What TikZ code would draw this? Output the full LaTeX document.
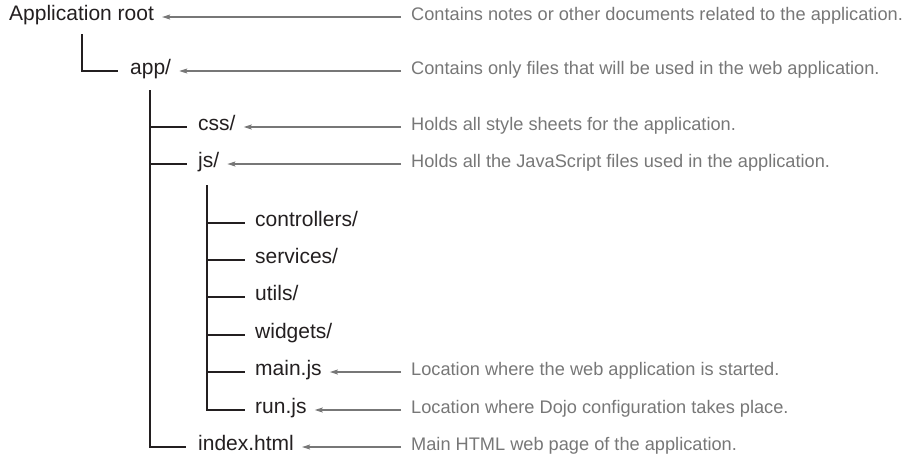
\documentclass[tikz,border=0pt]{standalone}
\usepackage{fontspec}
\setmainfont{Liberation Sans}
\usetikzlibrary{arrows.meta}
\definecolor{inkdark}{HTML}{231F20}
\definecolor{inkgrey}{HTML}{777777}
\tikzset{
  entry/.style={anchor=west, inner sep=0pt, text height=1.2ex, text depth=0pt,
    text=inkdark, font=\fontsize{21}{24}\selectfont},
  remark/.style={anchor=west, inner sep=0pt, text height=1.2ex, text depth=0pt,
    text=inkgrey, font=\fontsize{18.2}{22}\selectfont},
  branch/.style={draw=inkdark, line width=1.2pt},
  pointer/.style={draw=inkgrey, line width=1.1pt,
    -{Stealth[length=8pt,width=5pt,inset=1.5pt]}, shorten >=8pt, shorten <=10pt}
}

\begin{document}
\begin{tikzpicture}[x=1pt, y=-1pt]
\useasboundingbox (0,0) rectangle (916,459);

% Folders and files
\node[entry] (root) at (9,17) {Application root};
\node[entry] (app) at (130,71) {app/};
\foreach \nm/\y/\lbl in {css/127/{css/}, js/164/{js/}, index/447/{index.html}}
  \node[entry] (\nm) at (198,\y) {\lbl};
\foreach \nm/\y/\lbl in {ctrl/223/{controllers/}, svc/260/{services/},
    utils/297/{utils/}, widgets/335/{widgets/}, main/372/{main.js}, run/410/{run.js}}
  \node[entry] (\nm) at (255,\y) {\lbl};

% Tree lines
\coordinate (rootStem) at (82,34);
\coordinate (appStem) at (150,90);
\coordinate (jsStem) at (207,185);
\draw[branch] (rootStem) |- ([xshift=-12pt]app.west);
\draw[branch] (appStem) |- ([xshift=-12pt]index.west);
\foreach \nm in {css, js}
  \draw[branch] (appStem |- \nm.west) -- ([xshift=-11pt]\nm.west);
\draw[branch] (jsStem) |- ([xshift=-10pt]run.west);
\foreach \nm in {ctrl, svc, utils, widgets, main}
  \draw[branch] (jsStem |- \nm.west) -- ([xshift=-10pt]\nm.west);

% Notes
\foreach \nm/\y/\txt in {
  root/17/{Contains notes or other documents related to the application.},
  app/71/{Contains only files that will be used in the web application.},
  css/127/{Holds all style sheets for the application.},
  js/164/{Holds all the JavaScript files used in the application.},
  main/372/{Location where the web application is started.},
  run/410/{Location where Dojo configuration takes place.},
  index/447/{Main HTML web page of the application.}}
{
  \node[remark] (\nm-note) at (411,\y) {\txt};
  \draw[pointer] (\nm-note.west) -- (\nm-note.west -| \nm.east);
}

\end{tikzpicture}
\end{document}
